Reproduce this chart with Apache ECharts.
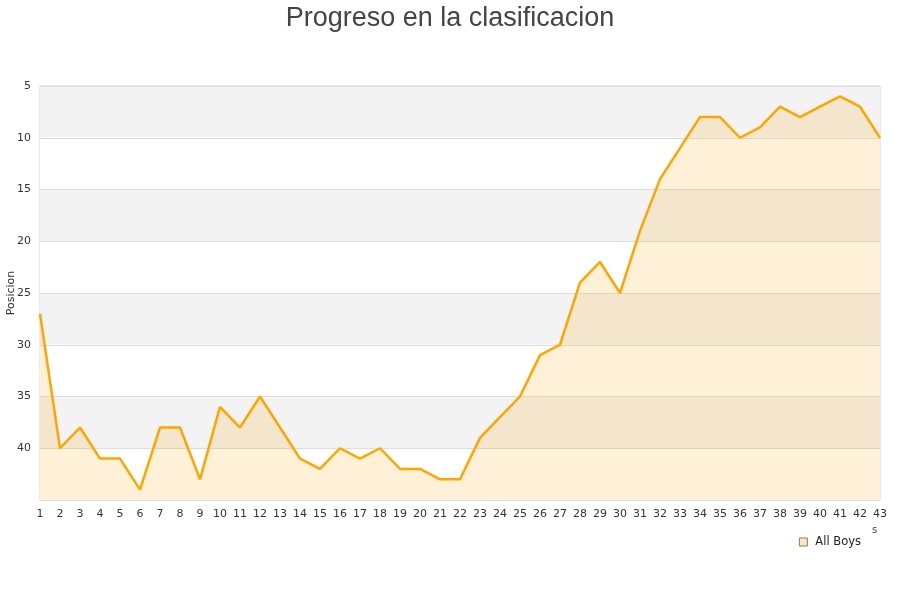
<!DOCTYPE html>
<html>
<head>
<meta charset="utf-8">
<script src="https://cdn.jsdelivr.net/npm/echarts@6/dist/echarts.min.js"></script>
<style>
html,body{margin:0;padding:0;background:#fff;}
#c{width:900px;height:600px;}
</style>
</head>
<body>
<div id="c"></div>
<script>
const jornadas = ['1','2','3','4','5','6','7','8','9','10','11','12','13','14','15','16','17','18','19','20','21','22','23','24','25','26','27','28','29','30','31','32','33','34','35','36','37','38','39','40','41','42','43'];
const allBoys = [27,40,38,41,41,44,38,38,43,36,38,35,38,41,42,40,41,40,42,42,43,43,39,37,35,31,30,24,22,25,19,14,11,8,8,10,9,7,8,7,6,7,10];
const titleText = 'Progreso en la clasificacion';
const yName = 'Posicion';
const seriesName = 'All Boys';

const chart = echarts.init(document.getElementById('c'), null, {renderer:'canvas'});
chart.setOption({
  animation:false,
  backgroundColor:'#fff',
  title:{
    text:titleText, left:'center', top:0,
    textStyle:{fontFamily:'Liberation Sans, Arial', fontSize:27, fontWeight:'normal', color:'#444'}
  },
  grid:{left:40, right:20, top:86, bottom:100, show:true, borderColor:'#d6d6d6', borderWidth:1, containLabel:false, outerBoundsMode:'none'},
  legend:{
    data:[seriesName], right:34, top:531, icon:'rect', itemWidth:8, itemHeight:8, itemGap:11,
    textStyle:{fontFamily:'DejaVu Sans', fontSize:11.5, color:'#222', padding:[0,0,0,3]},
    itemStyle:{color:'#fde6c0', borderColor:'#8a7a60', borderWidth:1}
  },
  xAxis:{
    type:'category', data:jornadas, boundaryGap:false,
    axisLine:{show:false}, axisTick:{show:false},
    axisLabel:{fontFamily:'DejaVu Sans', fontSize:11, color:'#333', margin:9, interval:0},
    splitLine:{show:false}
  },
  yAxis:{
    type:'value', inverse:true, min:5, max:45, interval:5,
    name:yName, nameLocation:'middle', nameGap:23, nameRotate:90, nameMoveOverlap:false,
    nameTextStyle:{fontFamily:'DejaVu Sans', fontSize:11, color:'#333'},
    axisLine:{show:false}, axisTick:{show:false},
    axisLabel:{fontFamily:'DejaVu Sans', fontSize:11, color:'#333', margin:9,
      formatter:function(v){return v===45?'':String(v);}},
    splitLine:{show:true, lineStyle:{color:'#ddd', width:1}},
    splitArea:{show:true, areaStyle:{color:['#f3f3f3','#ffffff']}}
  },
  graphic:[
    {type:'text', left:872, top:525, style:{text:'s', fontFamily:'DejaVu Sans', fontSize:10, fill:'#444'}}
  ],
  series:[{
    name:seriesName, type:'line', data:allBoys, symbol:'none',
    lineStyle:{color:'#FFA500', width:2.5},
    itemStyle:{color:'#FFA500'},
    areaStyle:{color:'rgba(255,165,0,0.22)', origin:'end'}
  }]
});
</script>
</body>
</html>
